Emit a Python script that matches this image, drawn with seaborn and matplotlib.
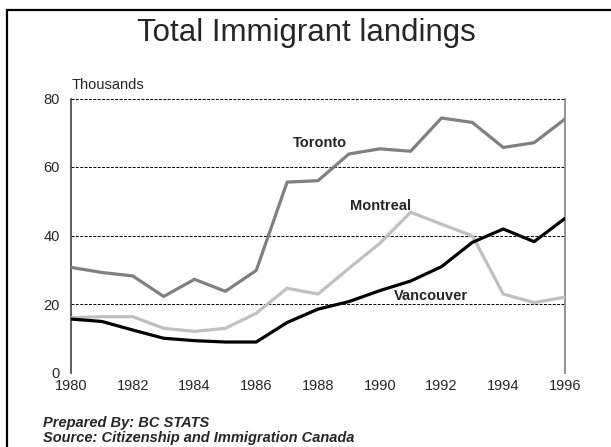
import matplotlib
matplotlib.use("Agg")
import matplotlib.pyplot as plt
from matplotlib.patches import Rectangle
import seaborn as sns
import pandas as pd

# values in thousands
years = list(range(1980, 1997))
toronto = [30.7, 29.2, 28.2, 22.2, 27.2, 23.7, 29.8, 55.6, 56.0, 63.8, 65.3, 64.6, 74.3, 73.0, 65.7, 67.1, 74.0]
montreal = [16.0, 16.3, 16.3, 12.9, 12.0, 12.9, 17.3, 24.6, 22.9, 30.4, 37.7, 46.8, 43.3, 39.9, 22.9, 20.4, 22.0]
vancouver = [15.6, 14.9, 12.4, 10.0, 9.3, 8.9, 8.9, 14.6, 18.5, 20.7, 23.9, 26.7, 30.9, 38.0, 41.9, 38.2, 45.0]
cities = ["Toronto", "Montreal", "Vancouver"]
city_colors = ["#808080", "#c0c0c0", "#000000"]
x_ticks = list(range(1980, 1997, 2))
y_ticks = [0, 20, 40, 60, 80]

df = pd.DataFrame({
    "year": years * 3,
    "value": toronto + montreal + vancouver,
    "city": [c for c in cities for _ in years],
})

sns.set_style("white")
plt.rcParams["font.family"] = ["Liberation Sans", "DejaVu Sans"]

W, H = 611, 447
fig = plt.figure(figsize=(W / 100, H / 100), dpi=100)
ax = fig.add_axes([71 / W, 1 - 372.5 / H, (565 - 71) / W, (372.5 - 98.5) / H])

for y in y_ticks:
    ax.axhline(y, color="black", lw=0.7, ls=(0, (3, 1.5)), zorder=1)

sns.lineplot(
    data=df, x="year", y="value", hue="city", hue_order=cities,
    palette=city_colors, lw=2.3, legend=False, ax=ax, zorder=3,
)

ax.set_xlim(1980, 1996)
ax.set_ylim(0, 80)
ax.set_xticks(x_ticks)
ax.set_yticks(y_ticks)
ax.tick_params(axis="both", length=0, labelsize=10.5)
ax.tick_params(axis="y", pad=8)
ax.tick_params(axis="x", pad=5)
ax.set_xlabel("")
ax.set_ylabel("")
ax.spines["top"].set_visible(False)
ax.spines["bottom"].set_visible(False)
ax.spines["left"].set_color("#404040")
ax.spines["left"].set_linewidth(1.2)
ax.spines["right"].set_color("#808080")
ax.spines["right"].set_linewidth(1.2)

ax.text(1987.2, 67.1, "Toronto", fontsize=10.5, fontweight="bold", ha="left", va="center")
ax.text(1989.03, 48.6, "Montreal", fontsize=10.5, fontweight="bold", ha="left", va="center")
ax.text(1990.45, 22.4, "Vancouver", fontsize=10.5, fontweight="bold", ha="left", va="center")

fig.text(306 / W, 1 - 33 / H, "Total Immigrant landings", fontsize=22.5, ha="center", va="center")
fig.text(72 / W, 1 - 85 / H, "Thousands", fontsize=10.5, ha="left", va="center")
fig.text(43 / W, 1 - 423 / H, "Prepared By: BC STATS", fontsize=10.5,
         fontweight="bold", fontstyle="italic", ha="left", va="center")
fig.text(43 / W, 1 - 438 / H, "Source: Citizenship and Immigration Canada", fontsize=10.5,
         fontweight="bold", fontstyle="italic", ha="left", va="center")

# outer frame, right and bottom edges run off the picture
fig.add_artist(Rectangle((7 / W, -0.2), 1.2, 1.2 - 10 / H, transform=fig.transFigure,
                         fill=False, lw=1.6, edgecolor="black"))

fig.savefig("out.png", dpi=100)
